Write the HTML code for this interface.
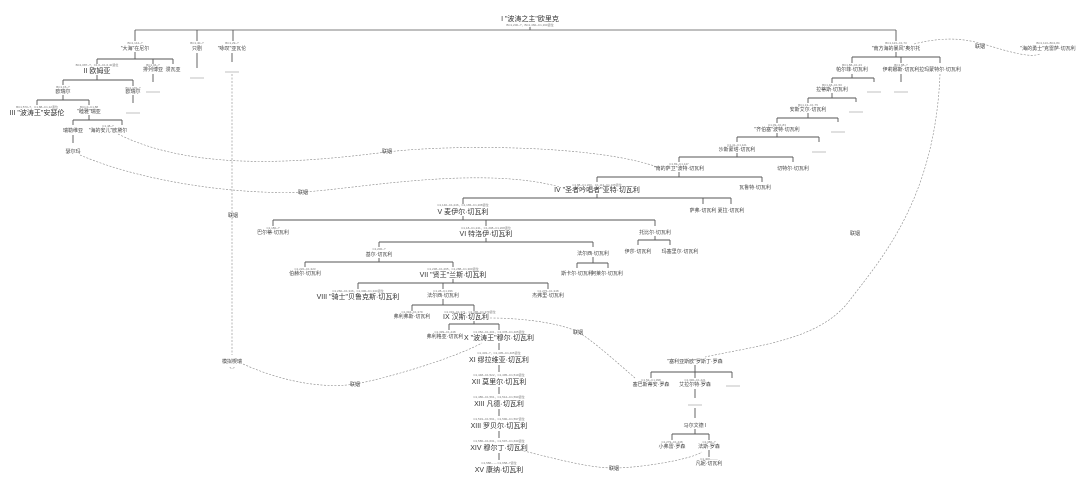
<!DOCTYPE html>
<html><head><meta charset="utf-8"><style>
html,body{margin:0;padding:0;background:#fff;}
svg{display:block;font-family:"Liberation Sans","Noto Sans CJK SC",sans-serif;}
.n{font-size:5px;fill:#444;text-anchor:middle;}
.b{font-size:7px;fill:#333;text-anchor:middle;}
.s{font-size:3px;fill:#777;text-anchor:middle;}
.l{stroke:#555;stroke-width:0.9;fill:none;}
.d{stroke:#888;stroke-width:0.6;fill:none;stroke-dasharray:2,1.5;}
.h{stroke:#999;stroke-width:0.6;fill:none;}
</style></head><body>
<svg width="1080" height="487" viewBox="0 0 1080 487">
<!-- root -->
<text class="b" x="530" y="21">I "波涛之主"欧里克</text>
<text class="s" x="530" y="26">BC1,200~?，BC1,460~C1,160退位</text>
<line x1="135" y1="30" x2="896" y2="30" stroke="#aaa" stroke-width="1.6"/>
<path class="l" d="M530 27V30M135 30V41M197 30V41M233 30V41M896 30V41"/>

<!-- left -->
<text class="s" x="135" y="44">BC1,144~?</text><text class="n" x="135" y="50">"大海"在尼尔</text>
<path class="l" d="M135 52V59M97 59H173M97 59V64M153 59V64M173 59V64"/>
<text class="s" x="97" y="66">BC1,087~?，C1,6~C1,6,40退位</text><text class="b" x="97" y="73">II 欧姆亚</text>
<text class="s" x="153" y="66">BC1,04~?</text><text class="n" x="153" y="71">排列博亚</text><text class="n" x="173" y="71">漫瓦亚</text>
<path class="l" d="M153 74V82"/><path class="h" d="M146 92H160"/>
<path class="l" d="M97 75V80M63 80H133M63 80V85M133 80V86"/>
<text class="s" x="63" y="88">BC1,15~?</text><text class="n" x="63" y="93">欧瑞尔</text>
<text class="s" x="133" y="89">BC1,170~?</text><text class="n" x="133" y="93">欧瑞尔</text>
<path class="l" d="M133 95V103"/><path class="h" d="M126 113H140"/>
<path class="l" d="M63 95V100M37 100H89M37 100V105M89 100V105"/>
<text class="s" x="37" y="108">BC1,570~?，C1,88~C1,12退位</text><text class="b" x="37" y="115">III "波涛王"安瑟伦</text>
<text class="s" x="89" y="108">BC1,0~C1,88</text><text class="n" x="89" y="113">"睦雅"瑞亚</text>
<path class="l" d="M89 115V120M73 120H122M73 120V125M122 120V125"/>
<text class="n" x="73" y="132">瑞勒维亚</text>
<text class="s" x="108" y="127">C1,48~?</text><text class="n" x="108" y="132">"海的安儿"欧黛尔</text>
<path class="l" d="M73 135V143"/><text class="n" x="73" y="153">瑟尔玛</text>

<text class="s" x="197" y="44">BC1,40~?</text><text class="n" x="197" y="50">只剧</text>
<path class="l" d="M197 53V68"/><path class="h" d="M190 78H204"/>
<text class="s" x="232" y="44">BC1,29~?</text><text class="n" x="232" y="50">"咏叹"亚瓦伦</text>
<path class="l" d="M232 53V62"/><path class="h" d="M225 72H239"/>
<path class="d" d="M232 74V355"/>
<text class="n" x="233" y="217">联姻</text>
<text class="n" x="232" y="363">模拟楔瑞</text><text class="s" x="232" y="369">?~?</text>

<!-- right staircase -->
<text class="s" x="896" y="44">BC1,123~C1,73</text><text class="n" x="896" y="50">"南方海的暴风"奥尔托</text>
<path class="l" d="M896 52V57M852 57H940M852 57V63M901 57V63M940 57V63"/>
<text class="s" x="852" y="66">BC1,88~C1,23</text><text class="n" x="852" y="71">帕尔菲·切瓦利</text>
<text class="s" x="901" y="66">BC1,88~?</text><text class="n" x="901" y="71">伊莉娜斯·切瓦利</text>
<text class="n" x="940" y="71">拉玛蒙特尔·切瓦利</text>
<path class="l" d="M901 74V82"/><path class="h" d="M894 92H908"/>
<path class="l" d="M852 74V78M832 78H874M832 78V83M874 78V82"/><path class="h" d="M867 92H881"/>
<text class="s" x="832" y="86">BC1,48~C1,50</text><text class="n" x="832" y="91">拉蒂斯·切瓦利</text>
<path class="l" d="M832 93V98M808 98H856M808 98V103M856 98V102"/><path class="h" d="M849 112H863"/>
<text class="s" x="808" y="106">BC1,13~C1,75</text><text class="n" x="808" y="111">安斯艾尔·切瓦利</text>
<path class="l" d="M808 113V118M777 118H838M777 118V123M838 118V122"/><path class="h" d="M831 132H845"/>
<text class="s" x="777" y="126">C1,09~C1,83</text><text class="n" x="777" y="131">"齐伯塞"波特·切瓦利</text>
<path class="l" d="M777 133V137M737 137H819M737 137V142M819 137V142"/><path class="h" d="M812 152H826"/>
<text class="s" x="737" y="146">C1,41~C1,121</text><text class="n" x="737" y="151">沙斯蒙塔·切瓦利</text>
<path class="l" d="M737 153V157M679 157H793M679 157V162M793 157V162"/>
<text class="s" x="679" y="165">C1,83~C1,147</text><text class="n" x="679" y="170">"南的萨卫"波特·切瓦利</text>
<text class="n" x="793" y="170">切特尔·切瓦利</text>
<path class="l" d="M679 172V177M597 177H762M597 177V182M762 177V182"/>
<text class="s" x="597" y="186">C1,88~C1,200，C1,113~C1,165退位</text><text class="b" x="597" y="192">IV "圣者吟唱者"亚特·切瓦利</text>
<text class="n" x="755" y="189">瓦鲁特·切瓦利</text>
<path class="l" d="M597 194V198M463 198H731M463 198V204M703 198V204M731 198V204"/>
<text class="n" x="703" y="212">萨弗·切瓦利</text><text class="n" x="731" y="212">夏拉·切瓦利</text>
<text class="s" x="463" y="206">C1,140~C1,246，C1,165~C1,208退位</text><text class="b" x="463" y="214">V 麦伊尔·切瓦利</text>
<path class="l" d="M463 216V220M273 220H655M273 220V226M486 220V226M655 220V226"/>
<text class="s" x="273" y="229">C1,180~?</text><text class="n" x="273" y="234">巴尔蒂·切瓦利</text>
<text class="s" x="486" y="229">C1,18~C1,241，C1,208~C1,208退位</text><text class="b" x="486" y="236">VI 特洛伊·切瓦利</text>
<text class="n" x="655" y="234">托比尔·切瓦利</text>
<path class="l" d="M655 236V240M638 240H670M638 240V245M670 240V245"/>
<text class="n" x="638" y="253">伊莎·切瓦利</text><text class="n" x="680" y="253">玛塞里尔·切瓦利</text>
<path class="l" d="M486 238V242M379 242H593M379 242V247M593 242V247"/>
<text class="s" x="379" y="250">C1,200~?</text><text class="n" x="379" y="256">基尔·切瓦利</text>
<text class="n" x="593" y="255">法尔西·切瓦利</text>
<path class="l" d="M593 257V263M577 263H608M577 263V268M608 263V268"/>
<text class="n" x="577" y="275">斯卡尔·切瓦利</text><text class="n" x="607" y="275">阿莱尔·切瓦利</text>
<path class="l" d="M379 258V262M305 262H453M305 262V267M453 262V267"/>
<text class="s" x="305" y="270">C1,220~C1,323</text><text class="n" x="305" y="275">伯赫尔·切瓦利</text>
<text class="s" x="453" y="270">C1,238~C1,295，C1,288~C1,300退位</text><text class="b" x="453" y="277">VII "贤王"兰斯·切瓦利</text>
<path class="l" d="M453 279V283M358 283H548M358 283V289M443 283V289M548 283V289"/>
<text class="s" x="358" y="292">C1,260~C1,346，C1,300~C1,344退位</text><text class="b" x="358" y="299">VIII "骑士"贝鲁克斯·切瓦利</text>
<text class="s" x="443" y="292">C1,28~C1,336</text><text class="n" x="443" y="297">法尔西·切瓦利</text>
<text class="s" x="548" y="292">C1,275~C1,348</text><text class="n" x="548" y="297">杰弗里·切瓦利</text>
<path class="l" d="M443 299V305M412 305H474M412 305V311M474 305V311"/>
<text class="s" x="412" y="313">C1,394~C1,379</text><text class="n" x="412" y="318">弗利弗斯·切瓦利</text>
<text class="s" x="470" y="313">C1,319~C1,371，C1,396~C1,379退位</text><text class="b" x="466" y="319">IX 汉斯·切瓦利</text>
<path class="l" d="M474 321V324M449 324H499M449 324V330M499 324V330"/>
<text class="s" x="445" y="333">C1,399~C1,448</text><text class="n" x="445" y="338">弗利格亚·切瓦利</text>
<text class="s" x="499" y="333">C1,352~C1,401，C1,378~C1,405退位</text><text class="b" x="499" y="340">X "波涛王"穆尔·切瓦利</text>
<path class="l" d="M499 343V350"/>
<text class="s" x="499" y="354">C1,403~?，C1,405~C1,405退位</text><text class="b" x="499" y="362">XI 缪拉维亚·切瓦利</text>
<path class="l" d="M499 365V372"/>
<text class="s" x="499" y="376">C1,448~C1,522，C1,495~C1,519退位</text><text class="b" x="499" y="384">XII 莫里尔·切瓦利</text>
<path class="l" d="M499 387V394"/>
<text class="s" x="499" y="398">C1,486~C1,561，C1,512~C1,590退位</text><text class="b" x="499" y="406">XIII 凡德·切瓦利</text>
<path class="l" d="M499 409V416"/>
<text class="s" x="499" y="420">C1,519~C1,591，C1,590~C1,597退位</text><text class="b" x="499" y="428">XIII 罗贝尔·切瓦利</text>
<path class="l" d="M499 431V438"/>
<text class="s" x="499" y="442">C1,586~C1,631，C1,597~C1,630退位</text><text class="b" x="499" y="450">XIV 穆尔丁·切瓦利</text>
<path class="l" d="M499 453V460"/>
<text class="s" x="499" y="464">C1,588~ — C1,658~?退位</text><text class="b" x="499" y="472">XV 康纳·切瓦利</text>

<!-- bottom right -->
<text class="n" x="695" y="363">"塞利亚斯欧"罗斯丁·罗森</text>
<path class="l" d="M695 365V372M651 372H732M651 372V378M695 372V378M732 372V378"/>
<text class="s" x="651" y="381">C1,52~C1,398</text><text class="n" x="651" y="386">塞巴斯蒂安·罗森</text>
<text class="s" x="695" y="381">C1,390~C1,421</text><text class="n" x="695" y="386">艾拉尔特·罗森</text>
<path class="h" d="M726 386H740"/>
<path class="l" d="M695 389V398"/><path class="h" d="M688 405H702"/>
<path class="l" d="M695 408V418"/>
<text class="n" x="695" y="427">马尔文德 I</text>
<path class="l" d="M695 429V434M672 434H709M672 434V440M709 434V440"/>
<text class="s" x="672" y="443">C1,279~C1,448</text><text class="n" x="672" y="448">小弗雷·罗森</text>
<text class="s" x="709" y="443">C1,380~?</text><text class="n" x="709" y="448">法斯·罗森</text>
<path class="l" d="M709 450V457"/>
<text class="s" x="709" y="460">C1,400~——</text><text class="n" x="709" y="465">凡妮·切瓦利</text>

<!-- far right -->
<text class="s" x="1048" y="44">BC1,113~BC1,84</text><text class="n" x="1048" y="50">"海的勇士"克雷萨·切瓦利</text>

<!-- marriage curves -->
<path class="d" d="M914 44C950 35 970 40 990 46S1030 58 1040 54"/>
<text class="n" x="980" y="48">联姻</text>
<path class="d" d="M940 74C935 200 880 260 850 300S760 345 705 357"/>
<text class="n" x="855" y="235">联姻</text>
<path class="d" d="M118 134C200 175 320 160 387 152S600 145 660 168"/>
<text class="n" x="387" y="153">联姻</text>
<path class="d" d="M80 155C150 185 250 195 303 192S480 165 560 187"/>
<text class="n" x="303" y="194">联姻</text>
<path class="d" d="M243 364C290 385 330 388 355 384S450 360 482 343"/>
<text class="n" x="355" y="386">联姻</text>
<path class="d" d="M490 318C530 318 565 325 578 332S620 365 635 378"/>
<text class="n" x="578" y="334">联姻</text>
<path class="d" d="M520 450C560 460 590 468 614 468S690 460 702 452"/>
<text class="n" x="614" y="470">联姻</text>
</svg>
</body></html>
